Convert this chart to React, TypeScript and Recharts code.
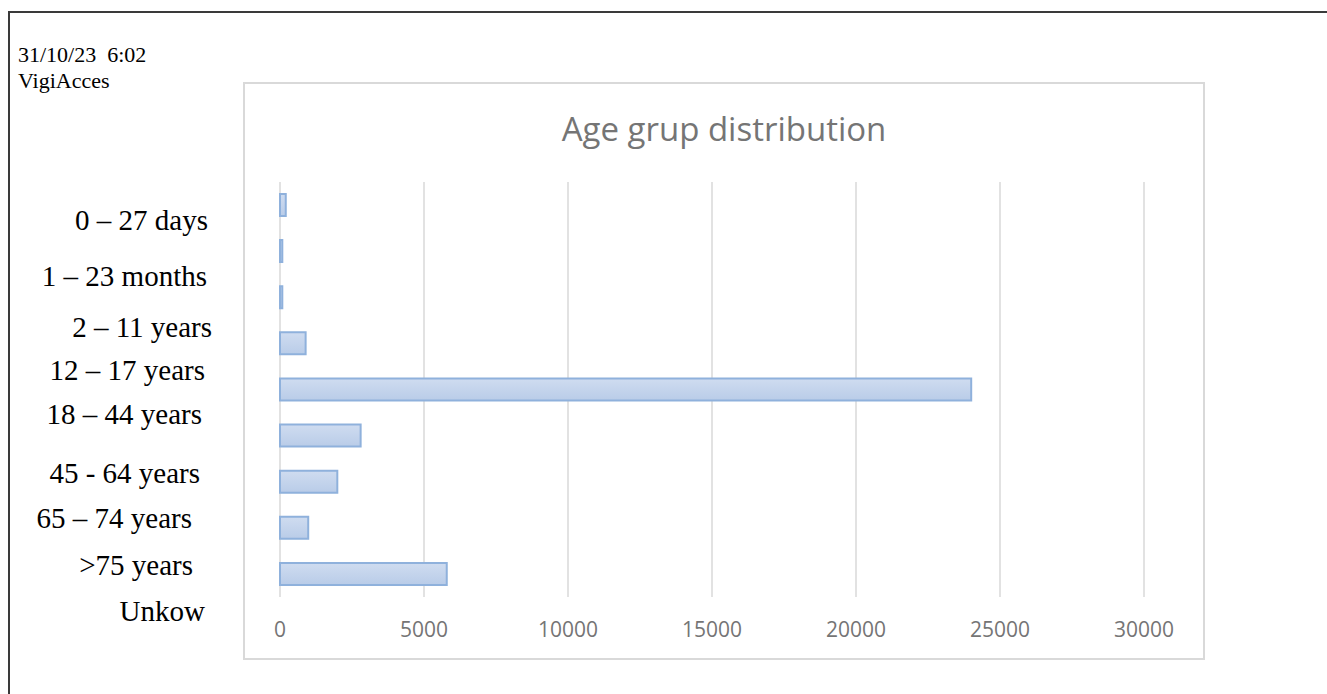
import React from "react";
import { BarChart, Bar, XAxis, YAxis, CartesianGrid } from "recharts";

const CATEGORIES = [
  "0 – 27 days",
  "1 – 23 months",
  "2 – 11 years",
  "12 – 17 years",
  "18 – 44 years",
  "45 - 64 years",
  "65 – 74 years",
  ">75 years",
  "Unkow",
];
const REPORTS = [200, 80, 80, 890, 24000, 2800, 1990, 980, 5790];
const X_TICKS = [0, 5000, 10000, 15000, 20000, 25000, 30000];

// the category labels sit loosely beside the bars, not on the band centres
const LABEL_RIGHT = [208, 207, 212, 205, 202, 200, 192, 193, 205];
const LABEL_DY = [25, 35, 40, 37, 34, 47, 46, 47, 47];

const data = CATEGORIES.map((label, i) => ({ label, value: REPORTS[i] }));

const GRAY = "#757575";

const CategoryTick = (props: any) => {
  const { y, index, payload } = props;
  return (
    <text
      x={LABEL_RIGHT[index]}
      y={y + LABEL_DY[index]}
      textAnchor="end"
      fontFamily="'Liberation Serif', serif"
      fontSize={29}
      fill="#000"
    >
      {payload.value}
    </text>
  );
};

const ValueTick = (props: any) => {
  const { x, y, payload } = props;
  return (
    <text
      x={x}
      y={y + 32}
      textAnchor="middle"
      fontFamily="'Open Sans', sans-serif"
      fontSize={21}
      fill={GRAY}
    >
      {payload.value}
    </text>
  );
};

export default function App() {
  return (
    <div
      style={{
        position: "absolute",
        left: 0,
        top: 0,
        width: 1327,
        height: 694,
        overflow: "hidden",
        background: "#fff",
      }}
    >
      <svg width={0} height={0} style={{ position: "absolute" }}>
        <defs>
          <linearGradient id="barFill" x1="0" y1="0" x2="0" y2="1">
            <stop offset="0%" stopColor="#cfdcf0" />
            <stop offset="100%" stopColor="#b9cce8" />
          </linearGradient>
        </defs>
      </svg>

      {/* page frame */}
      <div
        style={{
          position: "absolute",
          left: 8,
          top: 11,
          width: 1500,
          height: 900,
          borderLeft: "2px solid #3a3a3a",
          borderTop: "2px solid #3a3a3a",
        }}
      />

      <div
        style={{
          position: "absolute",
          left: 18,
          top: 42,
          fontFamily: "'Liberation Serif', serif",
          fontSize: 22,
          lineHeight: "26px",
          whiteSpace: "pre",
          color: "#000",
        }}
      >
        {"31/10/23  6:02\nVigiAcces"}
      </div>

      {/* chart box */}
      <div
        style={{
          position: "absolute",
          left: 243,
          top: 82,
          width: 962,
          height: 578,
          boxSizing: "border-box",
          border: "2px solid #d9d9d9",
        }}
      />
      <div
        style={{
          position: "absolute",
          left: 243,
          top: 112,
          width: 962,
          textAlign: "center",
          fontFamily: "'Open Sans', sans-serif",
          fontSize: 33,
          lineHeight: "33px",
          color: GRAY,
        }}
      >
        Age grup distribution
      </div>

      <div style={{ position: "absolute", left: 0, top: 0 }}>
        <BarChart
          width={1327}
          height={694}
          data={data}
          layout="vertical"
          margin={{ top: 182, right: 183, bottom: 67, left: 220 }}
        >
          <CartesianGrid
            horizontal={false}
            stroke="#d9d9d9"
            strokeWidth={1.5}
          />
          <XAxis
            type="number"
            domain={[0, 30000]}
            ticks={X_TICKS}
            axisLine={false}
            tickLine={false}
            tick={<ValueTick />}
            height={30}
            interval={0}
          />
          <YAxis
            type="category"
            dataKey="label"
            width={60}
            axisLine={false}
            tickLine={false}
            tick={<CategoryTick />}
            interval={0}
          />
          <Bar
            dataKey="value"
            barSize={22}
            fill="url(#barFill)"
            stroke="#8fb1dc"
            strokeWidth={2}
            isAnimationActive={false}
          />
        </BarChart>
      </div>
    </div>
  );
}
